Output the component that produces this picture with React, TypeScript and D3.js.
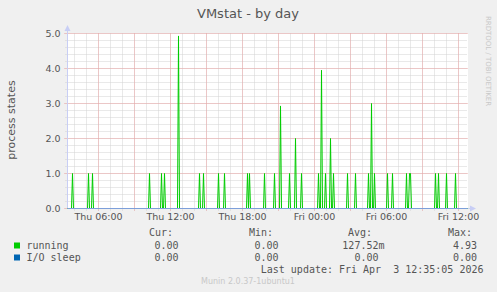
import React from "react";
import * as d3 from "d3";

const W = 497;
const H = 292;

const startTime = "2026-04-02T03:25:00Z";
const endTime = "2026-04-03T12:45:00Z";

// running: non-zero 5-minute samples (all other samples read as 0)
const spikeTimes = [
  "2026-04-02T03:50:00Z", "2026-04-02T05:10:00Z", "2026-04-02T05:30:00Z", "2026-04-02T10:15:00Z",
  "2026-04-02T11:15:00Z", "2026-04-02T11:30:00Z", "2026-04-02T12:40:00Z", "2026-04-02T14:25:00Z",
  "2026-04-02T14:45:00Z", "2026-04-02T16:00:00Z", "2026-04-02T16:30:00Z", "2026-04-02T18:25:00Z",
  "2026-04-02T18:35:00Z", "2026-04-02T19:50:00Z", "2026-04-02T20:40:00Z", "2026-04-02T21:10:00Z",
  "2026-04-02T21:55:00Z", "2026-04-02T22:25:00Z", "2026-04-02T22:55:00Z",
  "2026-04-03T00:20:00Z", "2026-04-03T00:35:00Z", "2026-04-03T00:55:00Z", "2026-04-03T01:20:00Z",
  "2026-04-03T01:35:00Z", "2026-04-03T02:45:00Z", "2026-04-03T03:25:00Z", "2026-04-03T04:30:00Z",
  "2026-04-03T04:45:00Z", "2026-04-03T05:00:00Z", "2026-04-03T06:05:00Z", "2026-04-03T06:30:00Z",
  "2026-04-03T07:40:00Z", "2026-04-03T07:55:00Z", "2026-04-03T08:00:00Z", "2026-04-03T10:05:00Z",
  "2026-04-03T10:20:00Z", "2026-04-03T11:00:00Z", "2026-04-03T11:45:00Z",
];
const spikeValues = [
  1, 1, 1, 1,
  1, 1, 4.93, 1,
  1, 1, 1, 1,
  1, 1, 1, 2.93,
  1, 2, 1,
  1, 3.95, 1, 2,
  1, 1, 1, 1,
  3, 1, 1, 1,
  1, 1, 1, 1,
  1, 1, 1,
];

const yTicks = [0, 1, 2, 3, 4, 5];

const legendSeries = ["running", "I/O sleep"];
const legendColors = ["#00cc00", "#0066b3"];
const legendCur = ["0.00", "0.00"];
const legendMin = ["0.00", "0.00"];
const legendAvg = ["127.52m", "0.00"];
const legendMax = ["4.93", "0.00"];

const font = "'DejaVu Sans', Verdana, sans-serif";
const mono = "'DejaVu Sans Mono', monospace";

export default function App() {
  const t0 = new Date(startTime);
  const t1 = new Date(endTime);
  const x = d3.scaleUtc().domain([t0, t1]).range([67.5, 467.5]);
  const y = d3.scaleLinear().domain([0, 5]).range([208.5, 33.5]);

  const spikeMap = new Map<number, number>();
  spikeTimes.forEach((s, i) => spikeMap.set(new Date(s).getTime(), spikeValues[i]));
  const samples = d3.utcMinute.every(5)!.range(t0, new Date(t1.getTime() + 1));
  const data: [Date, number][] = samples.map((d) => [d, spikeMap.get(d.getTime()) ?? 0]);

  const line = d3
    .line<[Date, number]>()
    .x((d) => x(d[0]))
    .y((d) => y(d[1]));

  const minorX = d3.utcHour.range(t0, t1);
  const majorX = d3.utcHour.every(3)!.range(t0, t1);
  const labelX = d3.utcHour.every(6)!.range(t0, t1);
  const minorY = y.ticks(25);
  const fmt = d3.utcFormat("%a %H:%M");

  const left = 67.5;
  const right = 467.5;
  const bottom = 208.5;
  const top = 33.5;

  return (
    <svg
      width={W}
      height={H}
      style={{ position: "fixed", left: 0, top: 0, display: "block" }}
    >
      <rect x={0} y={0} width={W} height={H} fill="#f0f0f0" />
      <rect x={67} y={33} width={401} height={176} fill="#ffffff" />

      {/* minor grid */}
      {minorX.map((d, i) => (
        <line key={"mx" + i} x1={x(d)} x2={x(d)} y1={top} y2={bottom + 2}
          stroke="#d2d2d2" strokeDasharray="1,1" strokeWidth={1} />
      ))}
      {minorY.map((v, i) => (
        <line key={"my" + i} x1={left - 2} x2={right} y1={y(v)} y2={y(v)}
          stroke="#d2d2d2" strokeDasharray="1,1" strokeWidth={1} />
      ))}
      {/* major grid */}
      {majorX.map((d, i) => (
        <line key={"Mx" + i} x1={x(d)} x2={x(d)} y1={top} y2={bottom + 3}
          stroke="#eca4a4" strokeDasharray="1,1" strokeWidth={1} />
      ))}
      {yTicks.map((v, i) => (
        <line key={"My" + i} x1={left - 3} x2={right} y1={y(v)} y2={y(v)}
          stroke="#eca4a4" strokeDasharray="1,1" strokeWidth={1} />
      ))}

      {/* axes */}
      <line x1={left} x2={left} y1={bottom} y2={28} stroke="#c8cef5" strokeWidth={1} />
      <path d={`M${left - 3},${31} L${left + 3},${31} L${left},${25} Z`} fill="#c8cef5" />
      <line x1={left} x2={471} y1={bottom} y2={bottom} stroke="#c8cef5" strokeWidth={1} />
      <path d={`M${470},${bottom - 3} L${470},${bottom + 3} L${476},${bottom} Z`} fill="#c8cef5" />

      {/* running */}
      <path d={line(data) ?? ""} fill="none" stroke="#00cc00" strokeWidth={1} />
      {/* I/O sleep at zero */}
      <line x1={left} x2={right} y1={bottom} y2={bottom} stroke="#7d9fda" strokeWidth={1} />

      {/* y tick labels */}
      {yTicks.map((v, i) => (
        <text key={"yl" + i} x={60.5} y={y(v) + 3.5} textAnchor="end"
          fontFamily={font} fontSize={9.5} fill="#555555">
          {v.toFixed(1)}
        </text>
      ))}
      {/* x tick labels */}
      {labelX.map((d, i) => (
        <text key={"xl" + i} x={x(d)} y={220} textAnchor="middle"
          fontFamily={font} fontSize={9.5} fill="#555555">
          {fmt(d)}
        </text>
      ))}

      {/* title */}
      <text x={248} y={17.5} textAnchor="middle" fontFamily={font} fontSize={13} fill="#555555">
        VMstat - by day
      </text>
      {/* y label */}
      <text transform="translate(14.5,120) rotate(-90)" textAnchor="middle"
        fontFamily={font} fontSize={11} fill="#555555">
        process states
      </text>
      {/* watermark */}
      <text transform="translate(485.5,61) rotate(90)" textAnchor="middle"
        fontFamily={font} fontSize={7} fill="#c8c8c8">
        RRDTOOL / TOBI OETIKER
      </text>

      {/* legend */}
      <g fontFamily={mono} fontSize={10} fill="#555555">
        <text x={149} y={236}>Cur:</text>
        <text x={249} y={236}>Min:</text>
        <text x={348} y={236}>Avg:</text>
        <text x={448} y={236}>Max:</text>
        {legendSeries.map((s, i) => {
          const by = 248.5 + i * 12;
          return (
            <g key={"lg" + i}>
              <rect x={14} y={by - 6} width={6} height={6} fill={legendColors[i]} />
              <text x={26.5} y={by}>{s}</text>
              <text x={178.5} y={by} textAnchor="end">{legendCur[i]}</text>
              <text x={278.5} y={by} textAnchor="end">{legendMin[i]}</text>
              <text x={legendAvg[i].endsWith("m") ? 384.5 : 378.5} y={by} textAnchor="end">{legendAvg[i]}</text>
              <text x={477} y={by} textAnchor="end">{legendMax[i]}</text>
            </g>
          );
        })}
        <text x={483.5} y={272.5} textAnchor="end" style={{ whiteSpace: "pre" }}>
          {"Last update: Fri Apr  3 12:35:05 2026"}
        </text>
      </g>
      <text x={248} y={284} textAnchor="middle" fontFamily={font} fontSize={8} fill="#c8c8c8">
        Munin 2.0.37-1ubuntu1
      </text>
    </svg>
  );
}
